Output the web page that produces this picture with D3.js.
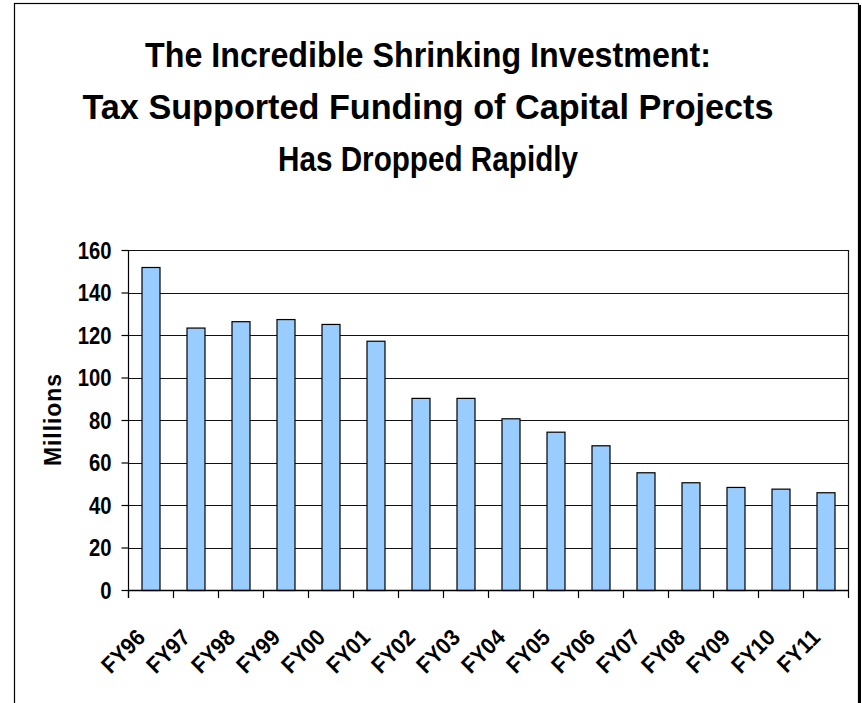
<!DOCTYPE html>
<html>
<head>
<meta charset="utf-8">
<script src="https://cdn.jsdelivr.net/npm/d3@7"></script>
<style>
  html, body { margin: 0; padding: 0; background: #fff; }
  svg { display: block; font-family: "Liberation Sans", Arial, sans-serif; }
</style>
</head>
<body>
<svg id="chart" width="862" height="703"></svg>
<script>
// ---- data ----
const titleLines = [
  "The Incredible Shrinking Investment:",
  "Tax Supported Funding of Capital Projects",
  "Has Dropped Rapidly"
];
const categories = ["FY96","FY97","FY98","FY99","FY00","FY01","FY02","FY03",
                    "FY04","FY05","FY06","FY07","FY08","FY09","FY10","FY11"];
const values = [152, 123.5, 126.5, 127.5, 125.2, 117.3, 90.4, 90.4,
                80.8, 74.5, 68.1, 55.4, 50.7, 48.5, 47.7, 46.0];
const yTicks = [0, 20, 40, 60, 80, 100, 120, 140, 160];
const yLabel = "Millions";

// ---- layout ----
const svg = d3.select("#chart");
const plot = { left: 128, right: 848, top: 250, bottom: 590 };

function squeeze(sel, f) {
  sel.each(function () {
    const L = this.getComputedTextLength();
    d3.select(this).attr("textLength", L * f).attr("lengthAdjust", "spacingAndGlyphs");
  });
}

// outer border
svg.append("rect")
  .attr("x", 14.5).attr("y", 3.5)
  .attr("width", 844).attr("height", 720)
  .attr("fill", "none").attr("stroke", "#000").attr("stroke-width", 1.2);
svg.append("line")
  .attr("x1", 860).attr("x2", 860).attr("y1", 5).attr("y2", 703)
  .attr("stroke", "#000").attr("stroke-width", 2);

// title
const titleBaselines = [67, 119, 171];
const titleWidths = [566, 691, 300];
titleLines.forEach((t, i) => {
  svg.append("text")
    .attr("x", 428).attr("y", titleBaselines[i])
    .attr("text-anchor", "middle")
    .attr("font-size", 35).attr("font-weight", "bold")
    .attr("textLength", titleWidths[i]).attr("lengthAdjust", "spacingAndGlyphs")
    .text(t);
});

// scales
const x = d3.scaleBand().domain(categories)
  .range([plot.left, plot.right]).paddingInner(0.6).paddingOuter(0.3);
const y = d3.scaleLinear().domain([0, 160]).range([plot.bottom, plot.top]);

// gridlines
svg.append("g").selectAll("line").data(yTicks.filter(d => d > 0)).join("line")
  .attr("x1", plot.left).attr("x2", plot.right)
  .attr("y1", d => Math.round(y(d)) + 0.5).attr("y2", d => Math.round(y(d)) + 0.5)
  .attr("stroke", "#111").attr("stroke-width", 1.2);

// right plot border
svg.append("line")
  .attr("x1", plot.right + 0.5).attr("x2", plot.right + 0.5)
  .attr("y1", plot.top).attr("y2", plot.bottom)
  .attr("stroke", "#111").attr("stroke-width", 1.2);

// bars
svg.append("g").selectAll("rect").data(values).join("rect")
  .attr("x", (d, i) => x(categories[i]) + 0.5)
  .attr("y", d => y(d) + 0.5)
  .attr("width", x.bandwidth())
  .attr("height", d => y(0) - y(d))
  .attr("fill", "#99CCFF")
  .attr("stroke", "#000").attr("stroke-width", 1.2);

// y axis
const yAxis = svg.append("g")
  .attr("transform", `translate(${plot.left + 0.5},0)`)
  .call(d3.axisLeft(y).tickValues(yTicks).tickSize(7).tickPadding(10).tickSizeOuter(0));
yAxis.select(".domain").attr("stroke", "#000").attr("stroke-width", 1.2)
  .attr("d", `M0,${plot.top}V${plot.bottom + 8}`);
yAxis.selectAll(".tick line").attr("stroke", "#000").attr("stroke-width", 1.2);
yAxis.selectAll(".tick text")
  .attr("font-size", 23).attr("font-weight", "bold")
  .attr("font-family", "Liberation Sans, Arial, sans-serif")
  .attr("fill", "#000").attr("dy", "0.36em")
  .call(squeeze, 0.88);

// x axis line + boundary ticks
const step = x.step();
const x0 = x(categories[0]) - x.paddingOuter() * step;
const boundaries = d3.range(categories.length + 1).map(i => x0 + i * step);
svg.append("line")
  .attr("x1", plot.left).attr("x2", plot.right + 1)
  .attr("y1", y(0) + 0.5).attr("y2", y(0) + 0.5)
  .attr("stroke", "#000").attr("stroke-width", 1.6);
svg.append("g").selectAll("line").data(boundaries).join("line")
  .attr("x1", d => Math.round(d) + 0.5).attr("x2", d => Math.round(d) + 0.5)
  .attr("y1", y(0)).attr("y2", y(0) + 8)
  .attr("stroke", "#000").attr("stroke-width", 1.2);

// x labels
svg.append("g").selectAll("text").data(categories).join("text")
  .attr("transform", d => `translate(${x(d) + x.bandwidth() / 2 - 4},639) rotate(-45)`)
  .attr("text-anchor", "end")
  .attr("font-size", 23).attr("font-weight", "bold")
  .text(d => d)
  .call(squeeze, 0.92);

// y label
svg.append("text")
  .attr("transform", `translate(61,420) rotate(-90)`)
  .attr("text-anchor", "middle")
  .attr("font-size", 23).attr("font-weight", "bold")
  .attr("textLength", 92).attr("lengthAdjust", "spacing")
  .text(yLabel);
</script>
</body>
</html>
